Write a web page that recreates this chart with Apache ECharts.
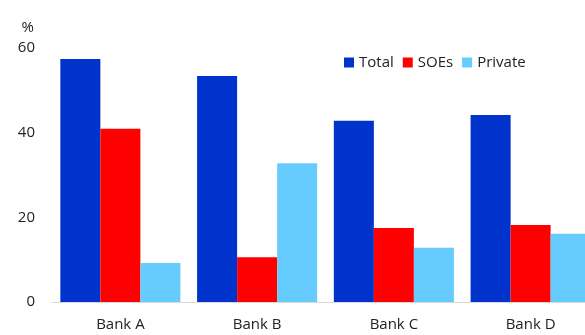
<!DOCTYPE html>
<html>
<head>
<meta charset="utf-8">
<script src="https://cdn.jsdelivr.net/npm/echarts@6/dist/echarts.min.js"></script>
<style>
html,body{margin:0;padding:0;background:#fff;}
#c{width:585px;height:335px;}
</style>
</head>
<body>
<div id="c"></div>
<script>
const categories = ['Bank A', 'Bank B', 'Bank C', 'Bank D'];
const totalValues = [57.4, 53.4, 42.8, 44.2];
const soeValues = [40.9, 10.6, 17.5, 18.2];
const privateValues = [9.2, 32.8, 12.8, 16.1];
const yTicks = [0, 20, 40, 60];

const font = '"Open Sans", "Noto Sans", sans-serif';
const chart = echarts.init(document.getElementById('c'), null, {renderer: 'canvas'});
chart.setOption({
  animation: false,
  backgroundColor: '#fff',
  textStyle: {fontFamily: font},
  legend: {
    left: 344, top: 55, padding: 0,
    itemWidth: 10, itemHeight: 10, itemGap: 9,
    icon: 'rect',
    textStyle: {fontSize: 15, color: '#222', fontFamily: font, padding: [0, 0, 0, 0]},
    data: ['Total', 'SOEs', 'Private']
  },
  grid: {left: 52, width: 547, top: 48, height: 254, containLabel: false, outerBoundsMode: 'none'},
  xAxis: {
    type: 'category',
    data: categories,
    axisLine: {lineStyle: {color: '#d9d9d9', width: 1}},
    axisTick: {show: false},
    axisLabel: {fontSize: 15, color: '#222', margin: 15, fontFamily: font}
  },
  yAxis: {
    type: 'value',
    min: yTicks[0], max: yTicks[yTicks.length - 1], interval: 20,
    name: '%',
    nameLocation: 'end',
    nameGap: 13,
    nameTextStyle: {fontSize: 15, color: '#222', align: 'right', padding: [0, 18, 0, 0], fontFamily: font},
    axisLine: {show: false},
    axisTick: {show: false},
    splitLine: {show: false},
    axisLabel: {fontSize: 15, color: '#222', margin: 17, fontFamily: font}
  },
  series: [
    {name: 'Total', type: 'bar', data: totalValues, itemStyle: {color: '#0033CC'}, barGap: '0%', barCategoryGap: '12.2%'},
    {name: 'SOEs', type: 'bar', data: soeValues, itemStyle: {color: '#FF0000'}},
    {name: 'Private', type: 'bar', data: privateValues, itemStyle: {color: '#66CCFF'}}
  ]
});
</script>
</body>
</html>
